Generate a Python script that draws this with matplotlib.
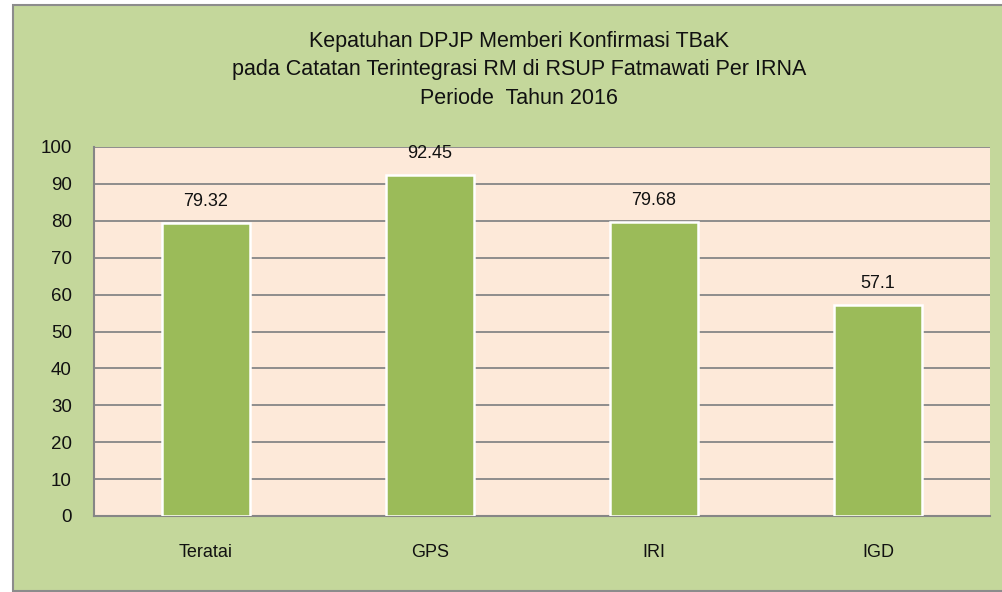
import matplotlib
matplotlib.use("Agg")
import matplotlib.pyplot as plt
from matplotlib.patches import Rectangle

categories = ["Teratai", "GPS", "IRI", "IGD"]
values = [79.32, 92.45, 79.68, 57.1]
value_labels = ["79.32", "92.45", "79.68", "57.1"]
yticks = [0, 10, 20, 30, 40, 50, 60, 70, 80, 90, 100]
title_lines = ["Kepatuhan DPJP Memberi Konfirmasi TBaK",
               "pada Catatan Terintegrasi RM di RSUP Fatmawati Per IRNA",
               "Periode  Tahun 2016"]

plt.rcParams['font.family'] = ['Liberation Sans', 'DejaVu Sans']

W, H = 1003, 592
fig = plt.figure(figsize=(W/100, H/100), dpi=100)
fig.patch.set_facecolor("white")

# outer chart area
bg = Rectangle((13/W, 1.5/H), 1.0, (H-6.5)/H, transform=fig.transFigure,
               facecolor="#C4D79B", edgecolor="#8C8C8C", linewidth=1.5, zorder=-10)
fig.add_artist(bg)

ax = fig.add_axes([94/W, (H-516)/H, (990-94)/W, (516-147)/H])
ax.set_zorder(5)
ax.set_facecolor("#FDE9D9")

x = range(len(categories))
ax.bar(x, values, width=0.39, color="#9BBB59", edgecolor="white", linewidth=1.8, zorder=3)
for xi, v, lab in zip(x, values, value_labels):
    ax.annotate(lab, (xi, v), xytext=(0, 9.5), textcoords="offset points",
                ha="center", va="bottom", fontsize=13, color="#111111")

ax.set_xlim(-0.5, len(categories) - 0.5)
ax.set_ylim(0, 100)
ax.set_yticks(yticks)
ax.set_xticks(list(x))
ax.set_xticklabels(categories)
ax.tick_params(axis="y", length=0, pad=16, labelsize=13.5, labelcolor="#111111")
ax.tick_params(axis="x", length=0, pad=20.5, labelsize=13, labelcolor="#111111")
ax.grid(axis="y", color="#868686", linewidth=1.3, zorder=1)
ax.set_axisbelow(True)
for s in ["top", "right"]:
    ax.spines[s].set_visible(False)
for s in ["left", "bottom"]:
    ax.spines[s].set_color("#868686")
    ax.spines[s].set_linewidth(1.5)

for i, line in enumerate(title_lines):
    fig.text(519/W, (H - (41 + 29*i))/H, line, ha="center", va="center",
             fontsize=15.5, color="#111111")

fig.savefig("out.png", dpi=100, facecolor=fig.get_facecolor())
